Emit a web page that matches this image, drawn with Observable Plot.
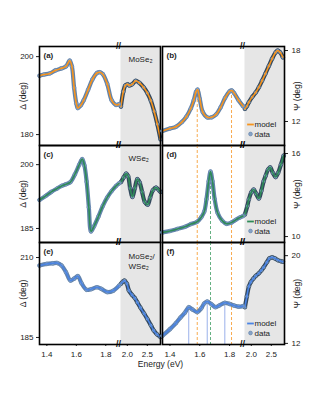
<!DOCTYPE html>
<html><head><meta charset="utf-8">
<script src="https://cdn.jsdelivr.net/npm/d3@7"></script>
<script src="https://cdn.jsdelivr.net/npm/@observablehq/plot@0.6"></script>
<style>
body{margin:0;background:#fff;}
#chart{position:relative;width:315px;height:394px;font-family:"Liberation Sans",Arial,sans-serif;}
#chart svg{position:absolute;left:0;top:0;}
</style></head><body><div id="chart"></div>
<script>
// ---- x axis (broken): white segment then gray segment
const xWhite = [1.35, 1.9];
const xGray = [1.83, 2.83];
const xTicksWhite = [1.4, 1.6, 1.8];
const xTicksGray = [2.0, 2.5];

// ---- (a) MoSe2, Delta
const aE  = [1.35,1.38,1.42,1.46,1.50,1.53,1.555,1.57,1.585,1.60,1.61,1.63,1.65,1.68,1.71,1.74,1.76,1.78,1.81,1.84,1.87,1.89];
const aV  = [195.1,195.4,195.7,196.5,197.0,197.5,199.0,197.5,192.0,188.0,186.8,187.5,188.8,191.5,194.2,195.8,196.0,195.5,193.0,188.8,187.6,187.8];
const aGE = [1.84,1.90,1.95,2.01,2.05,2.12,2.21,2.30,2.41,2.50,2.59,2.67,2.75,2.83];
const aGV = [187.2,191.0,192.6,192.9,192.6,192.9,193.8,193.3,192.1,190.7,188.7,186.0,182.7,178.8];
// ---- (b) MoSe2, Psi
const bE  = [1.35,1.40,1.44,1.48,1.51,1.54,1.56,1.575,1.585,1.60,1.62,1.65,1.68,1.71,1.74,1.77,1.80,1.815,1.83,1.86,1.89];
const bV  = [11.2,11.4,11.55,11.95,12.4,13.1,13.8,14.5,14.7,13.9,12.8,12.35,12.35,12.6,13.2,14.0,14.55,14.62,14.4,13.8,13.3];
const bGE = [1.84,1.89,1.94,2.02,2.11,2.19,2.27,2.35,2.44,2.52,2.61,2.66,2.72,2.79];
const bGV = [13.07,13.3,13.63,14.06,14.45,14.9,15.45,16.03,16.7,17.3,17.85,18.0,17.85,17.43];
// ---- (c) WSe2, Delta
const cE  = [1.35,1.39,1.43,1.47,1.50,1.53,1.56,1.59,1.62,1.64,1.655,1.67,1.685,1.70,1.72,1.75,1.78,1.81,1.84,1.87,1.89];
const cV  = [191.7,192.6,193.6,194.4,195.0,195.4,195.9,197.7,200.0,201.3,199.8,196.0,190.0,184.3,185.5,187.8,190.3,192.3,193.8,195.0,195.6];
const cGE = [1.84,1.91,1.97,2.02,2.07,2.13,2.19,2.25,2.31,2.37,2.44,2.51,2.57,2.64,2.72,2.79,2.83];
const cGV = [195.9,197.0,197.9,197.3,194.5,192.4,194.5,196.6,195.8,193.6,191.2,190.6,192.2,194.0,194.6,194.0,193.6];
// ---- (d) WSe2, Psi
const dE  = [1.35,1.40,1.45,1.50,1.54,1.58,1.61,1.63,1.645,1.66,1.672,1.685,1.70,1.72,1.75,1.78,1.81,1.84,1.87,1.89];
const dV  = [10.3,10.4,10.55,10.7,10.9,11.05,11.4,11.8,12.7,14.0,14.7,14.0,12.7,11.7,11.15,10.92,11.0,11.2,11.38,11.48];
const dGE = [1.84,1.90,1.94,2.00,2.06,2.12,2.19,2.25,2.31,2.36,2.42,2.47,2.54,2.61,2.67,2.74,2.81];
const dGV = [11.6,12.2,12.7,13.2,13.4,13.1,12.75,13.3,14.0,14.4,14.85,15.0,14.6,14.3,14.6,15.2,15.85];
// ---- (e) MoSe2/WSe2, Delta
const eE  = [1.35,1.40,1.44,1.47,1.50,1.53,1.56,1.585,1.61,1.635,1.67,1.70,1.74,1.77,1.81,1.85,1.89];
const eV  = [207.5,208.0,208.2,208.3,207.5,205.4,202.8,203.4,204.2,202.0,199.9,200.1,200.7,200.2,199.2,199.6,201.2];
const eGE = [1.84,1.89,1.93,1.99,2.04,2.12,2.19,2.25,2.33,2.42,2.50,2.59,2.66,2.74,2.83];
const eGV = [201.8,202.5,202.8,201.8,199.7,198.3,197.3,196.0,194.3,192.5,190.8,188.8,187.2,186.0,185.1];
// ---- (f) MoSe2/WSe2, Psi
const fE  = [1.35,1.40,1.44,1.47,1.50,1.526,1.55,1.583,1.61,1.63,1.65,1.68,1.705,1.73,1.768,1.80,1.83,1.86,1.89];
const fV  = [12.7,13.3,13.85,14.35,14.8,15.3,15.1,14.85,15.2,15.65,15.82,15.55,15.3,15.45,15.7,15.6,15.45,15.35,15.4];
const fGE = [1.84,1.89,1.94,1.99,2.05,2.11,2.19,2.25,2.31,2.39,2.45,2.52,2.59,2.66,2.74,2.79];
const fGV = [15.3,16.3,17.2,17.6,17.9,18.15,18.4,18.65,18.94,19.4,19.75,19.85,19.75,19.6,19.5,19.45];

// ---- marker lines (peak energies)
const orangeE = [1.583, 1.813];
const orangePeak = [14.7, 14.62];
const greenE = [1.672];
const greenPeak = [14.7];
const blueE = [1.526, 1.65, 1.768];
const bluePeak = [15.3, 15.82, 15.7];

// ---- labels
const letters = ["(a)","(b)","(c)","(d)","(e)","(f)"];
const materials = [["MoSe₂"],["WSe₂"],["MoSe₂/","WSe₂"]];
const yLabels = ["Δ (deg)","Ψ (deg)"];
const legendLabels = ["model","data"];

// ---- colours
const orange = "#f7941d", green = "#2e8b57", blue = "#4a84e4";
const dataFill = "#87a3c7", edgeW = "#6283ab", edgeG = "#34495e";

const W = 315, H = 394;
const cols = [[39,120,160],[162,244,284]];
const rows = [[46,145],[145,242],[242,344]];
const font = "'Liberation Sans', Arial, sans-serif";

const lineSym = {draw(ctx, size){const r = Math.sqrt(size/Math.PI); ctx.moveTo(-r*1.2,0); ctx.lineTo(r*1.2,0);}};

function pts(E,V){return E.map((e,i)=>({e, v: V[i]}));}

const panels = [
  {col:0,row:0,w:pts(aE,aV),g:pts(aGE,aGV),yd:[177.2,202.6],yt:[180,200],color:orange,letter:0,mat:0},
  {col:1,row:0,w:pts(bE,bV),g:pts(bGE,bGV),yd:[9.97,18.34],yt:[12,18],color:orange,letter:1,legend:true,
    rules:[{E:orangeE,peak:orangePeak,c:"#f7a23c"}]},
  {col:0,row:1,w:pts(cE,cV),g:pts(cGE,cGV),yd:[181.7,204.5],yt:[185,200],color:green,letter:2,mat:1},
  {col:1,row:1,w:pts(dE,dV),g:pts(dGE,dGV),yd:[9.57,16.58],yt:[10,16],color:green,letter:3,legend:true,
    rules:[{E:orangeE,c:"#f7a23c"},{E:greenE,peak:greenPeak,c:"#55a874"}]},
  {col:0,row:2,w:pts(eE,eV),g:pts(eGE,eGV),yd:[182.8,214.7],yt:[185,210],color:blue,letter:4,mat:2,bottom:true,energy:true},
  {col:1,row:2,w:pts(fE,fV),g:pts(fGE,fGV),yd:[11.9,21.2],yt:[12,20],color:blue,letter:5,legend:true,bottom:true,
    rules:[{E:blueE,peak:bluePeak,c:"#8fa8e8",solid:true},{E:orangeE,c:"#f7a23c"},{E:greenE,c:"#55a874"}]},
];

function curveMarks(seg, edge, color) {
  return [
    Plot.line(seg, {x:"e", y:"v", stroke: edge, strokeWidth: 4.2, curve:"catmull-rom"}),
    Plot.dot(seg, {x:"e", y:"v", r:1.9, fill: dataFill, stroke: edge, strokeWidth: 0.6}),
    Plot.line(seg, {x:"e", y:"v", stroke: color, strokeWidth: 1.6, curve:"catmull-rom"})
  ];
}

const chart = document.getElementById("chart");
for (const p of panels) {
  const [x0,xb,x1] = cols[p.col];
  const [top,bottom] = rows[p.row];
  const right = p.col === 1;
  const style = {background: "transparent", fontFamily: font, fontSize: "8px", color: "#222", overflow: "visible"};

  // gray (high-energy) segment
  const gray = Plot.plot({
    width: W, height: H,
    marginLeft: xb, marginRight: W - x1, marginTop: top, marginBottom: H - bottom,
    x: {domain: xGray, axis: p.bottom ? "bottom" : null, ticks: xTicksGray, tickFormat: d => d.toFixed(1), tickSize: 2, tickPadding: 5, label: null},
    y: {domain: p.yd, axis: null},
    style,
    marks: [Plot.frame({fill: "#e6e6e6", stroke: null}), ...curveMarks(p.g, edgeG, p.color)]
  });
  chart.appendChild(gray);

  // white (low-energy) segment, with frame, axes, labels
  const marks = [];
  for (const r of (p.rules || [])) {
    const opts = {stroke: r.c, strokeWidth: 0.9, strokeDasharray: r.solid ? null : "3,2"};
    if (r.peak) marks.push(Plot.ruleX(r.E.map((e,i)=>({e, pk: r.peak[i]})), {x:"e", y1:"pk", y2: p.yd[0], ...opts}));
    else marks.push(Plot.ruleX(r.E, opts));
  }
  marks.push(...curveMarks(p.w, edgeW, p.color));
  marks.push(Plot.text([letters[p.letter]], {frameAnchor:"top-left", dx:4, dy:9, lineAnchor:"middle", fontWeight:"bold", fontSize:8}));
  if (p.mat !== undefined) {
    const m = materials[p.mat];
    m.forEach((t,i)=> marks.push(Plot.text([t], {frameAnchor:"top-right", dx:-32, dy:(m.length>1?14:13)+i*10, textAnchor:"start", lineAnchor:"middle", fontSize:8})));
  }
  if (p.legend) {
    marks.push(Plot.dot([0], {frameAnchor:"bottom-right", dx:-34, dy:-21, r:2.8, symbol: lineSym, fill:"none", stroke:p.color, strokeWidth:1.8}));
    marks.push(Plot.dot([0], {frameAnchor:"bottom-right", dx:-34, dy:-11.5, r:1.9, fill:dataFill, stroke:edgeW, strokeWidth:0.6}));
    marks.push(Plot.text([legendLabels[0]], {frameAnchor:"bottom-right", dx:-30, dy:-21, textAnchor:"start", lineAnchor:"middle", fontSize:8}));
    marks.push(Plot.text([legendLabels[1]], {frameAnchor:"bottom-right", dx:-30, dy:-11.5, textAnchor:"start", lineAnchor:"middle", fontSize:8}));
  }
  marks.push(Plot.text(["//"], {x: xWhite[1], frameAnchor:"top", dx:-2, lineAnchor:"middle", fontWeight:"bold", fontSize:9}));
  marks.push(Plot.text(["//"], {x: xWhite[1], frameAnchor:"bottom", dx:-2, lineAnchor:"middle", fontWeight:"bold", fontSize:9}));
  marks.push(Plot.text([yLabels[p.col]], {frameAnchor: right ? "right" : "left", dx: right ? 13 : -16, rotate:-90, textAnchor:"middle", lineAnchor:"middle", fontSize:8.5}));
  if (p.energy) marks.push(Plot.text(["Energy (eV)"], {frameAnchor:"bottom-right", dx:0, dy:20, textAnchor:"middle", lineAnchor:"middle", fontSize:8.5}));
  marks.push(Plot.frame({stroke:"black", strokeWidth:1.6}));

  const white = Plot.plot({
    width: W, height: H,
    marginLeft: x0, marginRight: W - x1, marginTop: top, marginBottom: H - bottom,
    x: {domain: xWhite, range: [x0, xb], axis: p.bottom ? "bottom" : null, ticks: xTicksWhite, tickFormat: d => d.toFixed(1), tickSize: 2, tickPadding: 5, label: null},
    y: {domain: p.yd, axis: right ? "right" : "left", ticks: p.yt, tickFormat: d => String(d), tickSize: 3, tickPadding: right ? 4 : 3, label: null},
    style,
    marks
  });
  chart.appendChild(white);
}
</script>
</body></html>
